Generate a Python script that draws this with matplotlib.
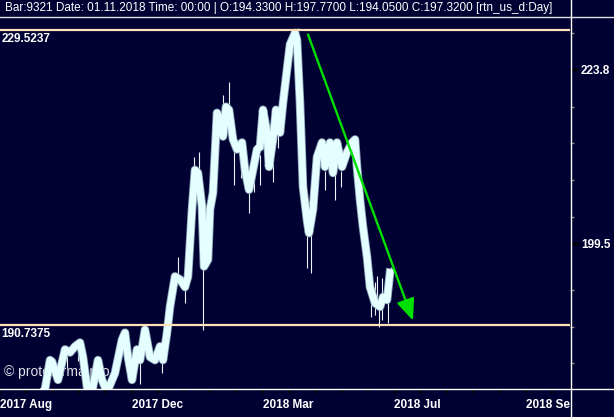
import matplotlib
matplotlib.use("Agg")
import matplotlib.pyplot as plt
from matplotlib.lines import Line2D

# ---- data (bar index, price) ----
bar_x = [40, 45, 50, 52, 58, 65, 70, 75, 80, 83, 87, 92, 98, 102, 107, 115, 122,
         125, 128, 132, 137, 140, 145, 150, 155, 160, 163, 167, 170, 175, 180,
         185, 188, 192, 195, 198, 202, 204, 208, 210, 213, 217, 220, 223, 226,
         229, 233, 237, 242, 245, 249, 253, 257, 260, 263, 267, 269, 273, 276,
         280, 283, 287, 290, 293, 295, 297, 300, 303, 307, 309, 313, 317, 322,
         325, 330, 333, 337, 342, 347, 352, 355, 357, 360, 363, 367, 370, 375,
         380, 383, 387, 390]
close = [181.5, 182.3, 186.1, 185.9, 183.5, 187.5, 187.1, 187.9, 188.4, 186.5,
         182.6, 181.9, 186.1, 183.5, 181.9, 184.4, 188.8, 189.7, 186.5, 183.5,
         187.5, 186.1, 190.1, 186.5, 186.1, 187.9, 186.1, 189.7, 193.1, 197.1,
         196.7, 195.7, 197.1, 205.9, 211.1, 210.7, 206.3, 198.4, 199.3, 205.9,
         208.1, 218.6, 217.7, 215.5, 219.4, 219.0, 215.1, 213.8, 214.7, 211.1,
         208.5, 211.1, 213.8, 214.1, 219.0, 216.0, 211.5, 215.1, 219.0, 216.0,
         219.9, 224.3, 227.6, 228.5, 229.1, 228.2, 219.9, 208.9, 204.5, 202.8,
         205.9, 212.8, 214.7, 211.5, 214.7, 210.7, 214.7, 211.5, 213.4, 214.7,
         215.1, 211.5, 207.2, 203.6, 199.7, 195.7, 193.6, 193.1, 194.4, 194.0,
         197.6]

wick_x = [199, 194, 203, 178, 185, 229, 223, 234, 241, 249, 254, 257, 260, 273,
          278, 298, 307, 311, 325, 335, 341, 352, 371, 375, 377, 379, 382, 388,
          391, 67, 78, 140, 162]
wick_lo = [210.7, 210.0, 190.1, 196.7, 193.6, 218.5, 215.0, 209.1, 210.1, 205.5,
           208.2, 213.0, 209.1, 209.5, 214.0, 227.0, 198.2, 197.6, 208.5, 207.2,
           208.9, 212.8, 191.8, 192.0, 193.0, 190.4, 191.4, 191.0, 196.0, 185.0,
           186.0, 182.9, 184.4]
wick_hi = [213.5, 212.8, 200.0, 199.7, 196.0, 222.6, 221.0, 214.0, 214.0, 208.5,
           211.0, 215.7, 213.0, 213.0, 217.5, 229.8, 204.0, 203.0, 211.0, 211.0,
           211.0, 214.5, 195.0, 196.4, 197.1, 193.5, 196.9, 194.5, 198.4, 187.7,
           188.8, 186.0, 186.5]

levels = [229.5237, 190.7375]
arrow_x = [308, 413]
arrow_y = [228.9, 191.3]

right_ticks = [224.26, 201.37]
right_labels = ["223.8", "199.5"]
right_minor = [229.13, 219.40, 214.66, 209.80, 204.94, 195.34, 190.47, 185.74]

date_ticks = [0, 131.5, 263, 394.5, 526]
date_labels = ["2017 Aug", "2017 Dec", "2018 Mar", "2018 Jul", "2018 Se"]
date_step = 26.3

header = ("Bar:9321 Date: 01.11.2018 Time: 00:00 | O:194.3300 H:197.7700 "
          "L:194.0500 C:197.3200 [rtn_us_d:Day]")

BG = "#000033"
W, H = 614, 417

fig = plt.figure(figsize=(W / 100, H / 100), dpi=100, facecolor=BG)
ax = fig.add_axes([0, (H - 389) / H, 570 / W, (389 - 17) / H], facecolor=BG)
ax.set_xlim(0, 570)
ax.set_ylim(182.3, 231.2)
for s in ax.spines.values():
    s.set_visible(False)

# wicks + thick price line
ax.vlines(wick_x, wick_lo, wick_hi, color="#e8f4f8", lw=0.8, zorder=2)
ax.plot(bar_x, close, color="#8aa0b4", lw=6.2, solid_joinstyle="round", zorder=3)
ax.plot(bar_x, close, color="#e4ffff", lw=5.0, solid_joinstyle="round", zorder=4)

for v in levels:
    ax.axhline(v, color="#ffe0b8", lw=1.6, zorder=5)
    ax.annotate(f"{v:.4f}", xy=(0, v), xytext=(1, -2.5), textcoords="offset points",
                ha="left", va="top", color="white", fontsize=8.5,
                fontweight="bold", family="Liberation Sans", zorder=6)

ax.annotate("", xy=(arrow_x[1], arrow_y[1]), xytext=(arrow_x[0], arrow_y[0]),
            arrowprops=dict(arrowstyle="-|>,head_length=1.3,head_width=0.55",
                            color="#00e000", lw=1.7, shrinkA=0, shrinkB=0),
            zorder=7)

ax.text(4, 184.6, "\u00a9 protoforma.pro", color="#e0e0e8", fontsize=10,
        family="Liberation Sans", ha="left", va="center", zorder=1)

# right price axis
ax.yaxis.tick_right()
ax.set_yticks(right_ticks)
ax.set_yticklabels(right_labels)
ax.set_yticks(right_minor, minor=True)
ax.tick_params(axis="y", which="major", length=6.5, width=1.5, color="black",
               pad=1.5, labelcolor="white", labelsize=8.5)
ax.tick_params(axis="y", which="minor", length=3, width=1, color="#8a8a8a")
for t in ax.get_yticklabels():
    t.set_fontweight("bold")
    t.set_family("Liberation Sans")

# bottom date axis
minor_x = [i * date_step for i in range(22)]
ax.set_xticks(date_ticks)
ax.set_xticklabels(date_labels, ha="left")
ax.set_xticks(minor_x, minor=True)
ax.tick_params(axis="x", which="both", length=3, width=1.5, color="black",
               pad=4, labelcolor="white", labelsize=8.5)
for t in ax.get_xticklabels():
    t.set_fontweight("bold")
    t.set_family("Liberation Sans")

# frame lines and header
fig.add_artist(Line2D([0, 1], [1 - 16.5 / H] * 2, color="#e0e0e0", lw=1))
fig.add_artist(Line2D([0, 1], [1 - 389 / H] * 2, color="white", lw=1))
fig.add_artist(Line2D([570.5 / W] * 2, [0, 1], color="white", lw=1))
fig.text(5 / W, 1 - 8.5 / H, header, color="white", fontsize=8.5,
         family="Liberation Sans", ha="left", va="center")

fig.savefig("out.png", dpi=100, facecolor=BG)
